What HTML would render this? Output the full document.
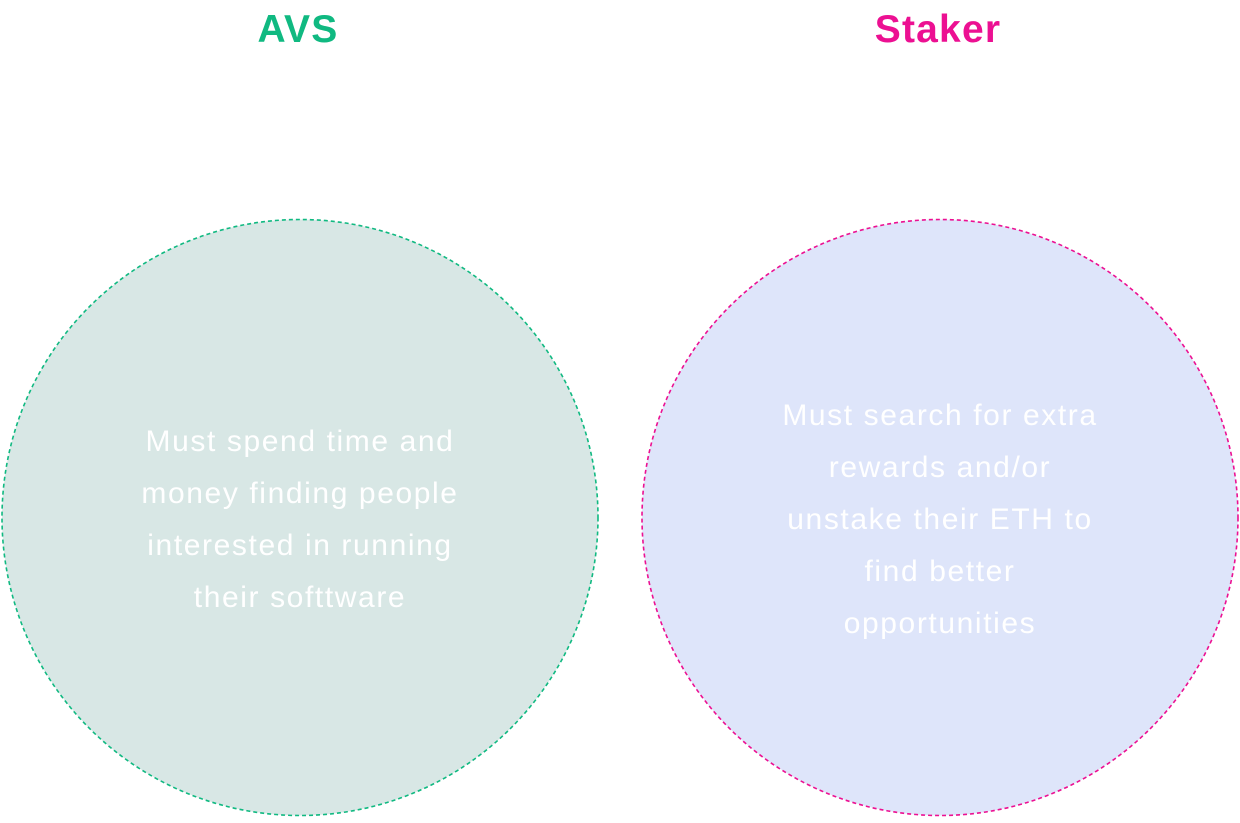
<!DOCTYPE html>
<html><head><meta charset="utf-8"><style>
body{margin:0;width:1240px;height:818px;background:#fff;overflow:hidden;font-family:"Liberation Sans",sans-serif}
</style></head><body>
<svg width="1240" height="818" xmlns="http://www.w3.org/2000/svg">
<text x="298" y="42" text-anchor="middle" font-family="Liberation Sans" font-weight="bold" font-size="39" letter-spacing="1.2" fill="#10b981">AVS</text>
<text x="938" y="42" text-anchor="middle" font-family="Liberation Sans" font-weight="bold" font-size="39" letter-spacing="1.2" fill="#ec1092">Staker</text>
<circle cx="300" cy="517.5" r="298" fill="#d8e7e5" stroke="#10b981" stroke-width="1.6" stroke-dasharray="4 3"/>
<circle cx="940" cy="517.5" r="298" fill="#dee5fa" stroke="#ec1092" stroke-width="1.6" stroke-dasharray="4 3"/>
<g font-family="Liberation Sans" font-size="30" letter-spacing="1.6" fill="#ffffff" text-anchor="middle">
<text x="300" y="451">Must spend time and</text>
<text x="300" y="503">money finding people</text>
<text x="300" y="555">interested in running</text>
<text x="300" y="607">their softtware</text>
<text x="940" y="425">Must search for extra</text>
<text x="940" y="477">rewards and/or</text>
<text x="940" y="529">unstake their ETH to</text>
<text x="940" y="581">find better</text>
<text x="940" y="633">opportunities</text>
</g>
</svg>
</body></html>
